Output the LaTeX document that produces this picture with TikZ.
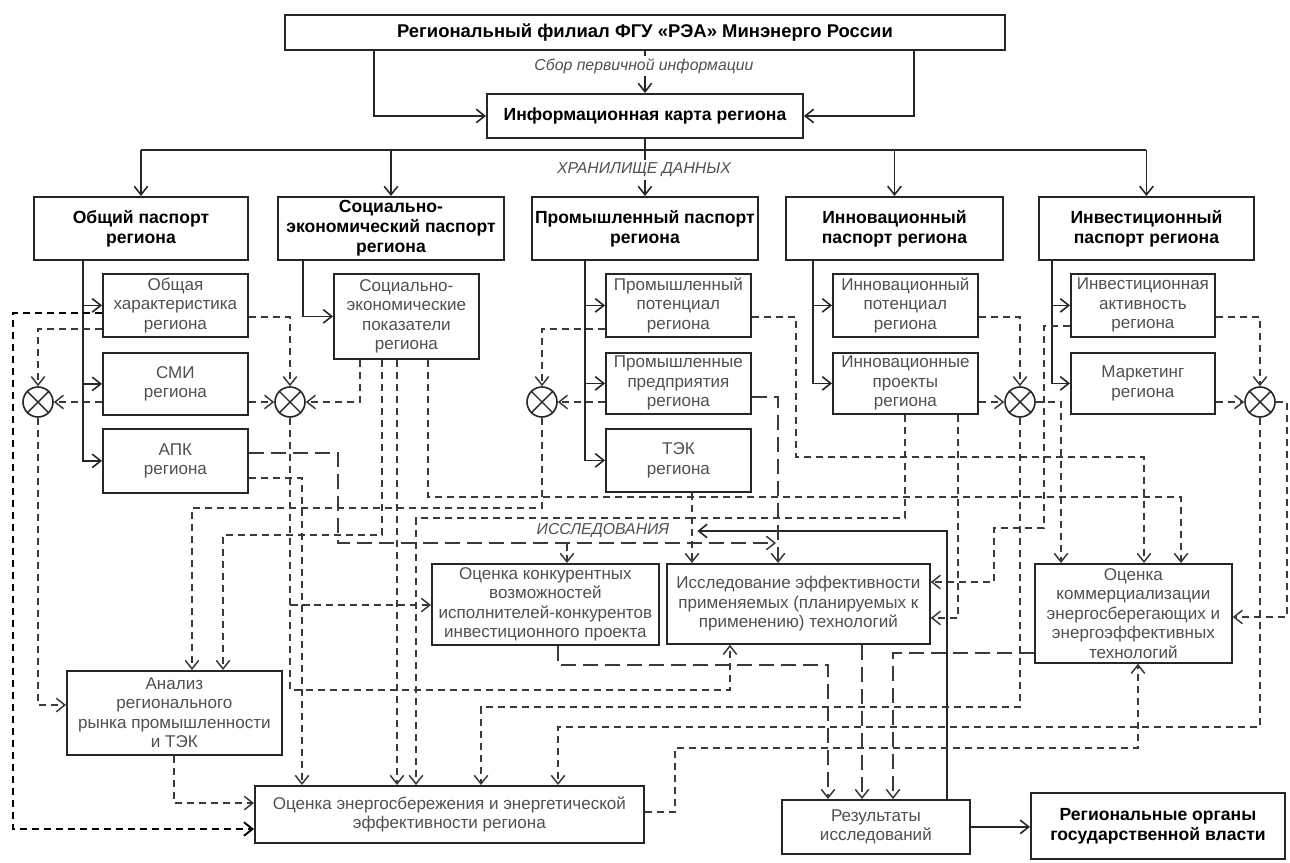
\documentclass[tikz,border=0pt]{standalone}
\usepackage{fontspec}
\setmainfont{Liberation Sans}
\usetikzlibrary{arrows.meta,backgrounds}
\definecolor{ln}{HTML}{262626}
\definecolor{tx}{HTML}{505050}
\definecolor{dl}{HTML}{3A3A3A}
\tikzset{
 sz/.style 2 args={minimum width={#1*0.02cm},minimum height={#2*0.02cm}},
 hbox/.style={draw=ln,line width=1.1pt,fill=white,inner sep=0pt,align=center,anchor=north west,font=\bfseries\fontsize{10}{11.4}\selectfont},
 sbox/.style={draw=ln,line width=1pt,fill=white,inner sep=0pt,align=center,anchor=north west,text=tx,font=\fontsize{9.7}{11.1}\selectfont},
 junc/.style={circle,draw=ln,line width=0.9pt,fill=white,minimum size=0.6cm,inner sep=0pt},
 sol/.style={draw=ln,line width=0.9pt,->},
 dsh/.style={draw=dl,line width=0.85pt,dash pattern=on 0.15cm off 0.09cm,->},
 ldsh/.style={draw=dl,line width=0.85pt,dash pattern=on 0.3cm off 0.14cm,->},
 dshh/.style={draw=black,line width=1.1pt,dash pattern=on 0.15cm off 0.09cm,->},
 lbl/.style={text=tx,font=\itshape\fontsize{9}{10}\selectfont,inner sep=1.5pt},
}
\begin{document}
\begin{tikzpicture}[x=0.02cm,y=-0.02cm,>={Straight Barb[length=1.7mm,width=2.7mm]}]
\useasboundingbox (0,0) rectangle (1290,862);
% ---------- boxes ----------
\node[hbox,sz={720}{35},font=\bfseries\fontsize{10.5}{12}\selectfont] (top) at (284,14) {Региональный филиал ФГУ «РЭА» Минэнерго России};
\node[hbox,sz={316}{44}] (card) at (486,93) {Информационная карта региона};
\node[hbox,sz={214}{63}] (p1) at (33,196) {Общий паспорт\\региона};
\node[hbox,sz={226}{63}] (p2) at (277,196) {Социально-\\экономический паспорт\\региона};
\node[hbox,sz={226}{63}] (p3) at (531,196) {Промышленный паспорт\\региона};
\node[hbox,sz={217}{63}] (p4) at (785,196) {Инновационный\\паспорт региона};
\node[hbox,sz={215}{63}] (p5) at (1038,196) {Инвестиционный\\паспорт региона};

\node[sbox,sz={145}{63}] (s11) at (102,273) {Общая\\характеристика\\региона};
\node[sbox,sz={145}{62}] (s12) at (102,352) {СМИ\\региона};
\node[sbox,sz={145}{64}] (s13) at (102,428) {АПК\\региона};
\node[sbox,sz={145}{85}] (s21) at (333,273) {Социально-\\экономические\\показатели\\региона};
\node[sbox,sz={145}{63}] (s31) at (605,273) {Промышленный\\потенциал\\региона};
\node[sbox,sz={145}{61}] (s32) at (605,352) {Промышленные\\предприятия\\региона};
\node[sbox,sz={145}{63}] (s33) at (605,428) {ТЭК\\региона};
\node[sbox,sz={145}{63}] (s41) at (832,273) {Инновационный\\потенциал\\региона};
\node[sbox,sz={145}{61}] (s42) at (832,352) {Инновационные\\проекты\\региона};
\node[sbox,sz={144}{63}] (s51) at (1070,273) {Инвестиционная\\активность\\региона};
\node[sbox,sz={144}{61}] (s52) at (1070,352) {Маркетинг\\региона};

\node[sbox,sz={227}{81}] (k1) at (431,563) {Оценка конкурентных\\возможностей\\исполнителей-конкурентов\\инвестиционного проекта};
\node[sbox,sz={263}{80}] (k2) at (666,563) {Исследование эффективности\\применяемых (планируемых к\\применению) технологий};
\node[sbox,sz={197}{99}] (k3) at (1034,563) {Оценка\\коммерциализации\\энергосберегающих и\\энергоэффективных\\технологий};
\node[sbox,sz={215}{84}] (a1) at (66,670) {Анализ\\регионального\\рынка промышленности\\и ТЭК};
\node[sbox,sz={389}{57}] (e1) at (254,785) {Оценка энергосбережения и энергетической\\эффективности региона};
\node[sbox,sz={188}{54}] (r1) at (781,799) {Результаты\\исследований};
\node[hbox,sz={254}{66}] (g1) at (1030,792) {Региональные органы\\государственной власти};

\foreach \n/\x in {C1/38,C2/290,C3/542,C4/1020,C5/1260}{
  \node[junc] (\n) at (\x,402) {};
  \draw[ln,line width=0.8pt] (\n.45)--(\n.225) (\n.135)--(\n.315);
}

\node[lbl,fill=white] (sbor) at (644,66) {Сбор первичной информации};
\node[lbl,fill=white] (hran) at (644,170) {ХРАНИЛИЩЕ ДАННЫХ};
\node[lbl,minimum width={188*0.02cm}] (issl) at (603,531) {ИССЛЕДОВАНИЯ};

\coordinate (t1) at (83,0);
\coordinate (t2) at (303,0);
\coordinate (t3) at (585,0);
\coordinate (t4) at (813,0);
\coordinate (t5) at (1052,0);

\begin{scope}[on background layer]
\fill[white] (0,0) rectangle (1290,862);
% ---------- solid ----------
\draw[sol] (top) -- (card);
\draw[sol] (top.south -| 374,0) |- (card.west);
\draw[sol] (top.south -| 914,0) |- (card.east);
\draw[sol] (card) -- (p3);
\draw[ln,line width=0.9pt] (p1.north |- 0,150) -- (p5.north |- 0,150);
\foreach \p in {p1,p2,p4,p5} \draw[sol] (\p.north |- 0,150) -- (\p.north);

\draw[sol] (p1.south -| t1) |- (s13.west);
\draw[sol] (t1 |- s11.west) -- (s11.west);
\draw[sol] (t1 |- s12.west) -- (s12.west);
\draw[sol] (p2.south -| t2) |- (s21.west);
\draw[sol] (p3.south -| t3) |- (s33.west);
\draw[sol] (t3 |- s31.west) -- (s31.west);
\draw[sol] (t3 |- s32.west) -- (s32.west);
\draw[sol] (p4.south -| t4) |- (s42.west);
\draw[sol] (t4 |- s41.west) -- (s41.west);
\draw[sol] (p5.south -| t5) |- (s52.west);
\draw[sol] (t5 |- s51.west) -- (s51.west);

\draw[sol] (r1.east) -- (g1.west |- r1.east);
\draw[sol] (r1.north -| 947,0) |- (issl.east);

% ---------- dashed ----------
\draw[dsh] (s11.east |- 0,317) -| (C2.north);
\draw[dsh] (s11.west |- 0,329) -| (C1.north);
\draw[dshh] (s11.west |- 0,313) -- (13,313) -- (13,829) -- (e1.west |- 0,829);
\draw[dsh] (s12.west |- C1) -- (C1.east);
\draw[dsh] (s12.east |- C2) -- (C2.west);
\draw[dsh] (C1.south) |- (a1.west |- 0,705);
\draw[dsh] (s21.south -| 360,0) |- (C2.east);
\draw[dsh] (C2.south) -- (290,690) -| (k2.south -| 730,0);
\draw[dsh] (290,605) -- (k1.west |- 0,605);
\draw[dsh] (s13.east |- 0,478) -| (e1.north -| 302,0);
\draw[ldsh] (s13.east |- 0,453) -| (338,543) -- (776,543);
\draw[dsh] (567,543) -- (k1.north -| 567,0);
\draw[dsh] (s21.south -| 428,0) |- (1181,497) -- (k3.north -| 1181,0);
\draw[dsh] (s21.south -| 397,0) -- (e1.north -| 397,0);
\draw[dsh] (s21.south -| 382,0) |- (223,535) -- (a1.north -| 223,0);
\draw[dsh] (C3.south) |- (192,508) -- (a1.north -| 192,0);
\draw[dsh] (s33.south -| 692,0) -- (k2.north -| 692,0);
\draw[dsh] (692,518) -- (416,518) -- (e1.north -| 416,0);
\draw[dsh] (s32.west |- C3) -- (C3.east);
\draw[dsh] (s31.west |- 0,329) -| (C3.north);
\draw[dsh] (s31.east |- 0,317) -| (796,457) -| (k3.north -| 1144,0);
\draw[ldsh] (s32.east |- 0,397) -| (k2.north -| 778,0);
\draw[dsh] (s41.east |- 0,317) -| (C4.north);
\draw[dsh] (s42.east |- C4) -- (C4.west);
\draw[dsh] (C4.south) |- (481,707) -- (e1.north -| 481,0);
\draw[dsh] (C5.south) |- (558,727) -- (e1.north -| 558,0);
\draw[dsh] (s51.east |- 0,317) -| (C5.north);
\draw[dsh] (s52.east |- C5) -- (C5.west);
\draw[dsh] (C5.east) -- (1287,402) |- (k3.east |- 0,617);
\draw[dsh] (s51.west |- 0,326) -| (1044,528) -| (994,582) -- (k2.east |- 0,582);
\draw[dsh] (C4.east) -| (k3.north -| 1061,0);
\draw[dsh,-] (s42.south -| 905,0) |- (692,518);
\draw[dsh] (s42.south -| 958,0) |- (k2.east |- 0,618);
\draw[ldsh] (k3.west |- 0,653) -| (r1.north -| 893,0);
\draw[ldsh] (k2.south -| 862,0) -- (r1.north -| 862,0);
\draw[ldsh] (k1.south -| 558,0) |- (828,665) -- (r1.north -| 828,0);
\draw[dsh] (e1.east |- 0,812) -| (675,748) -| (k3.south -| 1138,0);
\draw[dsh] (a1.south -| 174,0) |- (e1.west |- 0,803);
\end{scope}
\end{tikzpicture}
\end{document}
